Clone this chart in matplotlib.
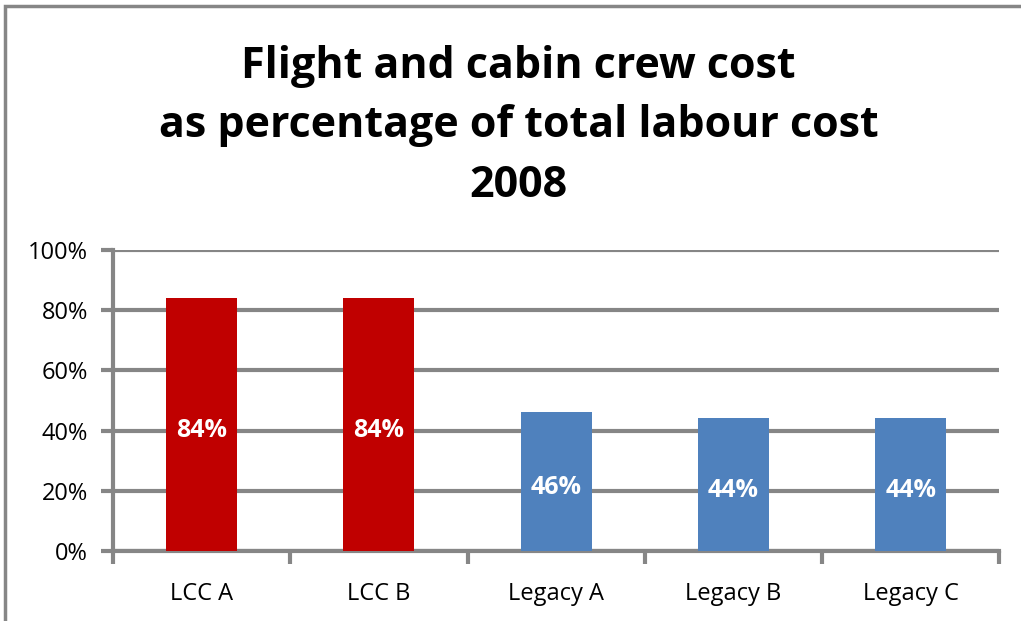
import numpy as np
from matplotlib import pyplot as plt
from matplotlib.patches import Rectangle

carriers = ["LCC A", "LCC B", "Legacy A", "Legacy B", "Legacy C"]
crew_share = [84, 84, 46, 44, 44]
bar_colors = ["#C00000", "#C00000", "#4F81BD", "#4F81BD", "#4F81BD"]

grey = "#868686"
font = ["Open Sans", "DejaVu Sans"]
plt.rcParams["font.family"] = font

fig = plt.figure(figsize=(10.21, 6.21), dpi=100)
ax = fig.add_axes([0.1107, 0.1127, 0.868, 0.485])

# outer chart frame, clipped on the right and bottom
fig.patches.append(Rectangle((5 / 1021, -0.1), 1.2, 0.1 + (621 - 6) / 621,
                             transform=fig.transFigure, fill=False,
                             edgecolor=grey, linewidth=2.5))

x = np.arange(len(carriers))
bars = ax.bar(x, crew_share, width=0.4, color=bar_colors, zorder=3)
for b, v in zip(bars, crew_share):
    ax.annotate(f"{v}%", (b.get_x() + b.get_width() / 2, v / 2),
                xytext=(0, -4), textcoords="offset points", ha="center",
                va="center", color="white", fontsize=18, fontweight="bold", zorder=4)

ax.set_xlim(-0.5, len(carriers) - 0.5)
ax.set_ylim(0, 100)
ax.set_yticks(np.arange(0, 101, 20))
ax.set_yticklabels([f"{t}%" for t in range(0, 101, 20)], fontsize=17)
ax.yaxis.grid(True, color=grey, linewidth=3, zorder=0)
ax.tick_params(axis="y", length=9, width=3, color=grey, pad=9)

ax.set_xticks(x)
ax.set_xticklabels(carriers, fontsize=17)
ax.set_xticks(np.arange(-0.5, len(carriers), 1), minor=True)
ax.tick_params(axis="x", which="major", length=0, pad=22)
ax.tick_params(axis="x", which="minor", length=9, width=3, color=grey)

for side in ["top", "right"]:
    ax.spines[side].set_visible(False)
for side in ["left", "bottom"]:
    ax.spines[side].set_color(grey)
    ax.spines[side].set_linewidth(3)

fig.text(0.508, 0.928, "Flight and cabin crew cost\nas percentage of total labour cost\n2008",
         ha="center", va="top", fontsize=31, fontweight="bold", linespacing=1.5)

fig.savefig("out.png", dpi=100)
